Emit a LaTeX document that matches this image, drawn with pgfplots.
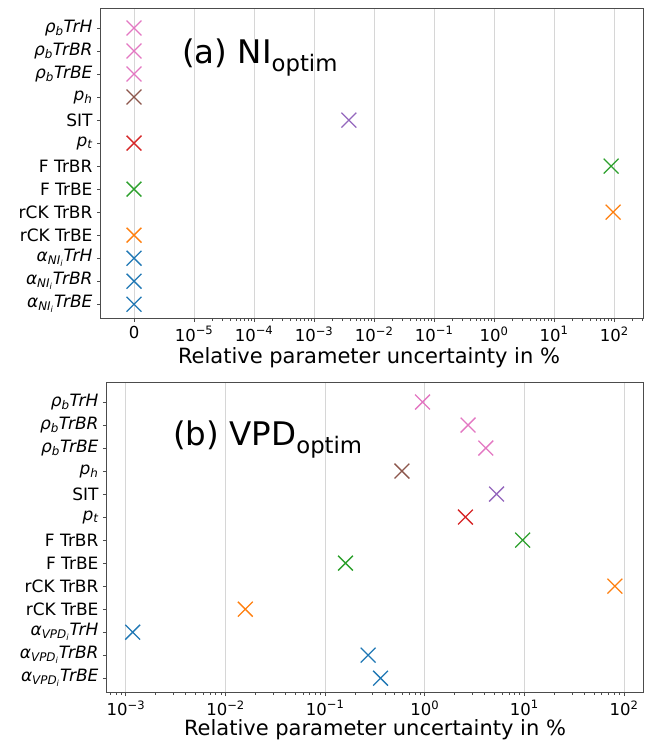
\documentclass[border=0pt]{standalone}
\usepackage{fontspec}
\setmainfont{DejaVu Sans}
\usepackage{pgfplots}
\usepackage{pgfplotstable}
\pgfplotsset{compat=1.18}

\definecolor{tabblue}{HTML}{1F77B4}
\definecolor{taborange}{HTML}{FF7F0E}
\definecolor{tabgreen}{HTML}{2CA02C}
\definecolor{tabred}{HTML}{D62728}
\definecolor{tabpurple}{HTML}{9467BD}
\definecolor{tabbrown}{HTML}{8C564B}
\definecolor{tabpink}{HTML}{E377C2}

% zero uncertainty is drawn at 1e-6 (shown as "0")
\pgfplotstableread{
y x cls
12 1e-6 pink
11 1e-6 pink
10 1e-6 pink
9 1e-6 brown
8 0.0038 purple
7 1e-6 red
6 89 green
5 1e-6 green
4 96 orange
3 1e-6 orange
2 1e-6 blue
1 1e-6 blue
0 1e-6 blue
}\NIdata

\pgfplotstableread{
y x cls
12 0.95 pink
11 2.72 pink
10 4.1 pink
9 0.59 brown
8 5.25 purple
7 2.56 red
6 9.6 green
5 0.16 green
4 81 orange
3 0.0158 orange
2 0.00117 blue
1 0.27 blue
0 0.36 blue
}\VPDdata

\pgfplotsset{
  unc/.style={
    scale only axis, height=310pt,
    ymin=-0.6, ymax=12.87,
    ytick={0,...,12},
    xtick pos=bottom, ytick pos=left,
    tick align=outside,
    major tick length=4pt, minor tick length=2.5pt,
    tick style={black!70, line width=0.9pt},
    axis line style={black!70, line width=1pt},
    xmajorgrids, grid style={black!16, line width=1pt},
    ticklabel style={font=\fontsize{17}{19}\selectfont},
    xticklabel style={font=\fontsize{16.5}{18}\selectfont, yshift=-1pt},
    yticklabel style={xshift=-1pt},
    scatter/classes={
      pink={mark=x, draw=tabpink},
      brown={mark=x, draw=tabbrown},
      purple={mark=x, draw=tabpurple},
      red={mark=x, draw=tabred},
      green={mark=x, draw=tabgreen},
      orange={mark=x, draw=taborange},
      blue={mark=x, draw=tabblue}},
  },
  pts/.style={scatter, only marks, mark=x, mark size=10.5pt,
    scatter src=explicit symbolic, mark options={line width=1.3pt}},
}

\begin{document}
\begin{tikzpicture}
\useasboundingbox (0,0) rectangle (651pt,-744pt);

\begin{axis}[unc, xmode=log,
  at={(101pt,-318pt)}, anchor=south west, width=542pt,
  xmin=2.818e-7, xmax=302,
  xtick={1e-6,1e-5,1e-4,1e-3,1e-2,1e-1,1,10,100},
  xticklabels={0,10\textsuperscript{−5},10\textsuperscript{−4},10\textsuperscript{−3},10\textsuperscript{−2},10\textsuperscript{−1},10\textsuperscript{0},10\textsuperscript{1},10\textsuperscript{2}},
  minor xtick={2e-5,3e-5,4e-5,5e-5,6e-5,7e-5,8e-5,9e-5,
    2e-4,3e-4,4e-4,5e-4,6e-4,7e-4,8e-4,9e-4,
    2e-3,3e-3,4e-3,5e-3,6e-3,7e-3,8e-3,9e-3,
    2e-2,3e-2,4e-2,5e-2,6e-2,7e-2,8e-2,9e-2,
    0.2,0.3,0.4,0.5,0.6,0.7,0.8,0.9,
    2,3,4,5,6,7,8,9,20,30,40,50,60,70,80,90,200,300},
  yticklabels={
    \textit{α\textsubscript{NI\textsubscript{i}}TrBE},
    \textit{α\textsubscript{NI\textsubscript{i}}TrBR},
    \textit{α\textsubscript{NI\textsubscript{i}}TrH},
    rCK TrBE, rCK TrBR, F TrBE, F TrBR,
    \textit{p\textsubscript{t}}, SIT, \textit{p\textsubscript{h}},
    \textit{ρ\textsubscript{b}TrBE},
    \textit{ρ\textsubscript{b}TrBR},
    \textit{ρ\textsubscript{b}TrH}},
]
\addplot[pts] table[x=x, y=y, meta=cls] {\NIdata};
\end{axis}

\begin{axis}[unc, xmode=log,
  at={(107pt,-692pt)}, anchor=south west, width=536pt,
  xmin=6.46e-4, xmax=155,
  xtick={1e-3,1e-2,1e-1,1,10,100},
  xticklabels={10\textsuperscript{−3},10\textsuperscript{−2},10\textsuperscript{−1},10\textsuperscript{0},10\textsuperscript{1},10\textsuperscript{2}},
  minor xtick={7e-4,8e-4,9e-4,
    2e-3,3e-3,4e-3,5e-3,6e-3,7e-3,8e-3,9e-3,
    2e-2,3e-2,4e-2,5e-2,6e-2,7e-2,8e-2,9e-2,
    0.2,0.3,0.4,0.5,0.6,0.7,0.8,0.9,
    2,3,4,5,6,7,8,9,20,30,40,50,60,70,80,90},
  yticklabels={
    \textit{α\textsubscript{VPD\textsubscript{i}}TrBE},
    \textit{α\textsubscript{VPD\textsubscript{i}}TrBR},
    \textit{α\textsubscript{VPD\textsubscript{i}}TrH},
    rCK TrBE, rCK TrBR, F TrBE, F TrBR,
    \textit{p\textsubscript{t}}, SIT, \textit{p\textsubscript{h}},
    \textit{ρ\textsubscript{b}TrBE},
    \textit{ρ\textsubscript{b}TrBR},
    \textit{ρ\textsubscript{b}TrH}},
]
\addplot[pts] table[x=x, y=y, meta=cls] {\VPDdata};
\end{axis}

\node[anchor=base west, inner sep=0pt, font=\fontsize{32.5}{36}\selectfont] at (182pt,-63pt) {(a) NI\textsubscript{optim}};
\node[anchor=base west, inner sep=0pt, font=\fontsize{32.5}{36}\selectfont] at (173pt,-445pt) {(b) VPD\textsubscript{optim}};
\node[anchor=base, inner sep=0pt, font=\fontsize{21}{24}\selectfont] at (369pt,-363pt) {Relative parameter uncertainty in \%};
\node[anchor=base, inner sep=0pt, font=\fontsize{21}{24}\selectfont] at (375pt,-735pt) {Relative parameter uncertainty in \%};
\end{tikzpicture}
\end{document}
